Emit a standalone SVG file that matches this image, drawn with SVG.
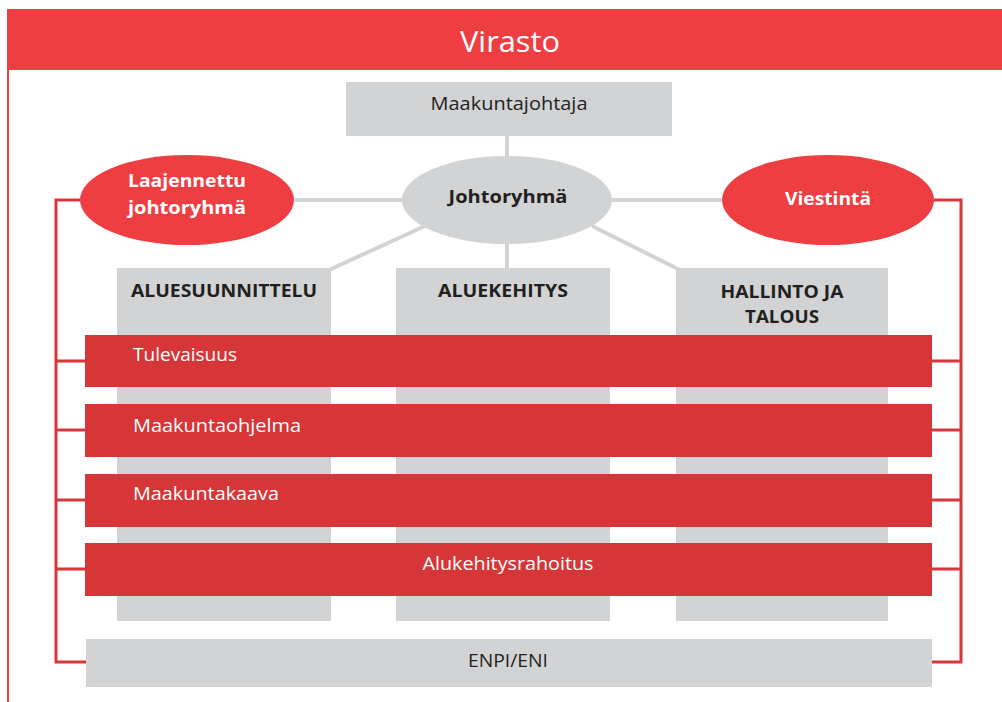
<svg xmlns="http://www.w3.org/2000/svg" width="1002" height="702" viewBox="0 0 1002 702">
<style>
.hdr{fill:#EF3E42}
.ell{fill:#EF3E42}
.bar{fill:#D63637}
.grey{fill:#D1D3D4}
.gl{stroke:#D1D3D4;stroke-width:4;fill:none}
.rl{stroke:#D6373A;stroke-width:3;fill:none}
.t{font-family:"Open Sans","Liberation Sans",sans-serif;font-size:17px}
.r{font-size:18px}
.big{font-size:30px}
.w{fill:#FFFFFF}
.d{fill:#231F20}
.b{font-weight:bold}
</style>
<rect width="1002" height="702" fill="#FFFFFF"/>
<g id="virasto">
<rect class="hdr" x="7" y="9" width="995" height="61"/>
<line x1="8" y1="70" x2="8" y2="702" stroke="#EF3E42" stroke-width="2"/>
<text class="t big w" x="510" y="52" text-anchor="middle" textLength="100" lengthAdjust="spacingAndGlyphs">Virasto</text>
</g>
<g id="connectors">
<line class="gl" x1="295" y1="200" x2="722" y2="200"/>
<line class="gl" x1="507" y1="136" x2="507" y2="156"/>
<line class="gl" x1="507" y1="244" x2="507" y2="268"/>
<line class="gl" x1="425" y1="226" x2="329" y2="270"/>
<line class="gl" x1="592" y1="226" x2="680" y2="270"/>
<polyline class="rl" points="80,200 56,200 56,662 86,662"/>
<line class="rl" x1="56" y1="361" x2="86" y2="361"/>
<line class="rl" x1="56" y1="430" x2="86" y2="430"/>
<line class="rl" x1="56" y1="500" x2="86" y2="500"/>
<line class="rl" x1="56" y1="569" x2="86" y2="569"/>
<polyline class="rl" points="933,200 961,200 961,662 932,662"/>
<line class="rl" x1="932" y1="361" x2="961" y2="361"/>
<line class="rl" x1="932" y1="430" x2="961" y2="430"/>
<line class="rl" x1="932" y1="500" x2="961" y2="500"/>
<line class="rl" x1="932" y1="569" x2="961" y2="569"/>
</g>
<g id="maakuntajohtaja">
<rect class="grey" x="346" y="82" width="326" height="54"/>
<text class="t r d" x="509" y="110" text-anchor="middle" textLength="157" lengthAdjust="spacingAndGlyphs">Maakuntajohtaja</text>
</g>
<g id="johtoryhma">
<ellipse class="grey" cx="507" cy="200" rx="105" ry="44"/>
<text class="t d b" x="508" y="203" text-anchor="middle" textLength="119" lengthAdjust="spacingAndGlyphs">Johtoryhmä</text>
</g>
<g id="laajennettu">
<ellipse class="ell" cx="187" cy="200" rx="107" ry="45"/>
<text class="t w b" x="187" y="187" text-anchor="middle" textLength="118" lengthAdjust="spacingAndGlyphs">Laajennettu</text>
<text class="t w b" x="187" y="214" text-anchor="middle" textLength="118" lengthAdjust="spacingAndGlyphs">johtoryhmä</text>
</g>
<g id="viestinta">
<ellipse class="ell" cx="828" cy="200" rx="106" ry="45"/>
<text class="t w b" x="828" y="205" text-anchor="middle" textLength="86" lengthAdjust="spacingAndGlyphs">Viestintä</text>
</g>
<g id="aluesuunnittelu">
<rect class="grey" x="117" y="268" width="214" height="353"/>
<text class="t d b" x="224" y="297" text-anchor="middle" textLength="186" lengthAdjust="spacingAndGlyphs">ALUESUUNNITTELU</text>
</g>
<g id="aluekehitys">
<rect class="grey" x="396" y="268" width="214" height="353"/>
<text class="t d b" x="503" y="297" text-anchor="middle" textLength="130" lengthAdjust="spacingAndGlyphs">ALUEKEHITYS</text>
</g>
<g id="hallinto">
<rect class="grey" x="676" y="268" width="212" height="353"/>
<text class="t d b" x="782" y="298" text-anchor="middle" textLength="123" lengthAdjust="spacingAndGlyphs">HALLINTO JA</text>
<text class="t d b" x="782" y="323" text-anchor="middle" textLength="74" lengthAdjust="spacingAndGlyphs">TALOUS</text>
</g>
<g id="tulevaisuus">
<rect class="bar" x="85" y="335" width="847" height="52"/>
<text class="t r w" x="133" y="361" textLength="104" lengthAdjust="spacingAndGlyphs">Tulevaisuus</text>
</g>
<g id="maakuntaohjelma">
<rect class="bar" x="85" y="404" width="847" height="53"/>
<text class="t r w" x="133" y="432" textLength="168" lengthAdjust="spacingAndGlyphs">Maakuntaohjelma</text>
</g>
<g id="maakuntakaava">
<rect class="bar" x="85" y="474" width="847" height="53"/>
<text class="t r w" x="133" y="500" textLength="146" lengthAdjust="spacingAndGlyphs">Maakuntakaava</text>
</g>
<g id="alukehitysrahoitus">
<rect class="bar" x="85" y="543" width="847" height="53"/>
<text class="t r w" x="508" y="570" text-anchor="middle" textLength="171" lengthAdjust="spacingAndGlyphs">Alukehitysrahoitus</text>
</g>
<g id="enpi">
<rect class="grey" x="86" y="639" width="846" height="48"/>
<text class="t r d" x="508" y="667" text-anchor="middle" textLength="80" lengthAdjust="spacingAndGlyphs">ENPI/ENI</text>
</g>
</svg>
